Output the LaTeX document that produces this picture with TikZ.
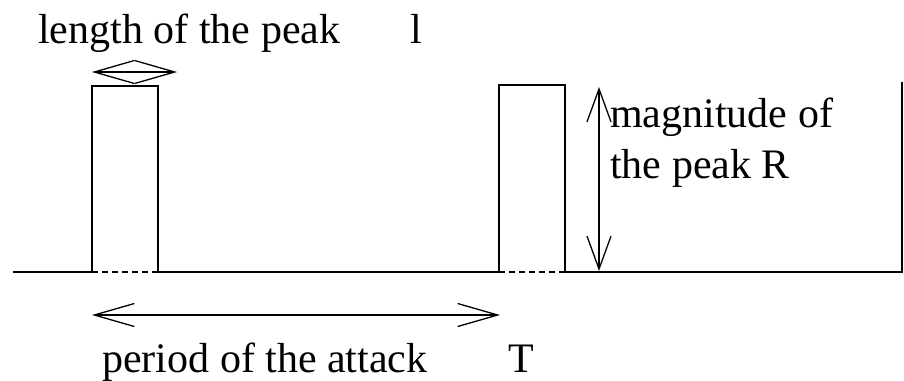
\documentclass[tikz,border=0pt]{standalone}
\usepackage{fontspec}
\setmainfont{Liberation Serif}
\usetikzlibrary{arrows.meta}

\begin{document}
\begin{tikzpicture}[x=1pt,y=-1pt,sig/.style={line width=1.6pt},gap/.style={line width=1.2pt,dash pattern=on 6pt off 4pt},lab/.style={font=\fontsize{42}{51}\selectfont,inner sep=0pt,anchor=base west},dim/.style={{Straight Barb[length=40pt,width=23pt]}-{Straight Barb[length=40pt,width=23pt]},line width=1.3pt}]
\useasboundingbox (0,0) rectangle (904,380);
% pulse train
\coordinate (start) at (13,272); \coordinate (end) at (902,82);
\coordinate (up1) at (92,272); \coordinate (down1) at (158,272);
\coordinate (up2) at (499,272); \coordinate (down2) at (565,272);
\draw[sig] (start)--(up1)--(92,86)--(158,86)--(down1)--(up2)--(499,85)--(565,85)--(down2)--(902,272)--(end);
\draw[gap] (up1)--(down1); \draw[gap] (up2)--(down2);
% dimensions
\coordinate (lenL) at (92,72); \coordinate (lenR) at (177,72);
\coordinate (perL) at (92,315); \coordinate (perR) at (500,315);
\coordinate (magT) at (599,87); \coordinate (magB) at (599,271);
\draw[dim] (lenL)--(lenR);
\draw[dim] (perL)--(perR);
\draw[dim,{Straight Barb[length=33pt,width=24pt]}-{Straight Barb[length=33pt,width=24pt]}] (magT)--(magB);
% labels
\node[lab] (len) at (38,43) {length of the peak};
\node[lab] (lsym) at (410,43) {l};
\node[lab,align=left] (mag) at (610,178) {magnitude of\\the peak R};
\node[lab] (per) at (102,372) {period of the attack};
\node[lab] (tsym) at (508,372) {T};
\end{tikzpicture}
\end{document}
